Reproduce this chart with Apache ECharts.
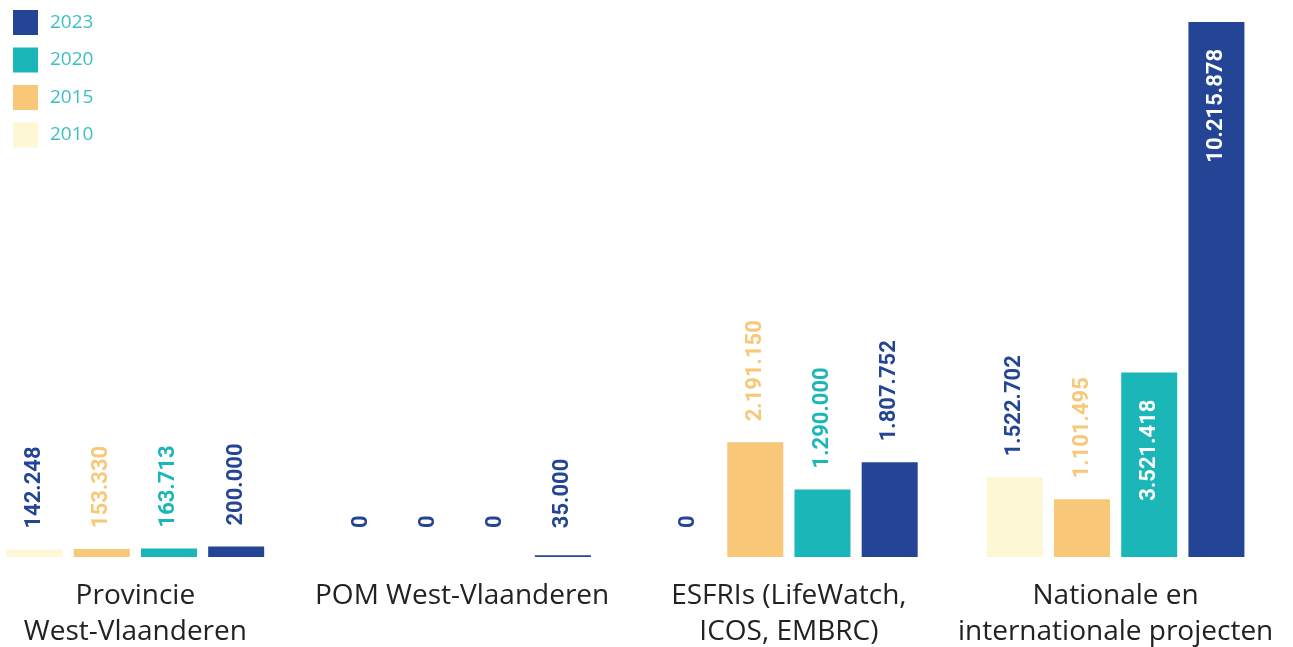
<!DOCTYPE html>
<html>
<head>
<meta charset="utf-8">
<script src="https://cdn.jsdelivr.net/npm/echarts@6/dist/echarts.min.js"></script>
<style>
	html, body { margin: 0; padding: 0; background: #fff; }
	#chart { width: 1293px; height: 647px; }
</style>
</head>
<body>
<div id="chart"></div>
<script>
	'use strict'

	/*-----Data-----*/
	var categories = ['Provincie\nWest-Vlaanderen', 'POM West-Vlaanderen', 'ESFRIs (LifeWatch,\nICOS, EMBRC)', 'Nationale en\ninternationale projecten'];
	var years = ['2010', '2015', '2020', '2023'];
	var values2010 = [142248, 0, 0, 1522702];
	var values2015 = [153330, 0, 2191150, 1101495];
	var values2020 = [163713, 0, 1290000, 3521418];
	var values2023 = [200000, 35000, 1807752, 10215878];

	var colors = ['#fdf7d5', '#f8c778', '#1ab6b8', '#244496'];
	var labelColors = ['#244496', '#f8c778', '#1ab6b8', '#244496'];
	var darkBlue = '#244496';

	function fmt(v) {
		return String(v).replace(/\B(?=(\d{3})+(?!\d))/g, '.');
	}

	function buildSeries(name, values, idx) {
		return {
			name: name,
			type: 'bar',
			barWidth: 56,
			barGap: '20%',
			itemStyle: { color: colors[idx] },
			label: {
				show: true,
				position: 'top',
				rotate: 90,
				align: 'left',
				verticalAlign: 'middle',
				distance: 21,
				fontFamily: 'Roboto',
				fontWeight: 'bold',
				fontSize: 22,
				color: labelColors[idx],
				formatter: function(p) { return fmt(p.value); }
			},
			data: values.map(function(v) {
				var item = { value: v };
				if (v > 3000000) {
					item.label = { position: 'insideTop', align: 'right', distance: 27, color: '#fff' };
				} else if (v === 0) {
					item.label = { distance: 29, color: darkBlue };
				} else if (v < 100000) {
					item.label = { distance: 27 };
				}
				return item;
			})
		};
	}

	var chart = echarts.init(document.getElementById('chart'));
	var option = {
		animation: false,
		color: colors,
		legend: {
			data: ['2023', '2020', '2015', '2010'],
			orient: 'vertical',
			left: 8,
			top: 5,
			icon: 'rect',
			itemWidth: 25,
			itemHeight: 25,
			itemGap: 12.5,
			textStyle: {
				color: '#3cc0c5',
				fontSize: 19,
				fontFamily: 'Open Sans',
				padding: [0, 0, 0, 7]
			}
		},
		grid: {
			left: -28,
			right: 14,
			top: 22,
			bottom: 90,
			outerBoundsMode: 'none',
			containLabel: false
		},
		xAxis: {
			type: 'category',
			data: categories,
			axisLine: { show: false },
			axisTick: { show: false },
			axisLabel: {
				interval: 0,
				margin: 21,
				color: '#222',
				fontSize: 28,
				lineHeight: 36,
				fontFamily: 'Open Sans'
			}
		},
		yAxis: {
			type: 'value',
			min: 0,
			max: 10215878,
			show: false,
			splitLine: { show: false }
		},
		series: [
			buildSeries(years[0], values2010, 0),
			buildSeries(years[1], values2015, 1),
			buildSeries(years[2], values2020, 2),
			buildSeries(years[3], values2023, 3)
		]
	};
	chart.setOption(option);
</script>
</body>
</html>
